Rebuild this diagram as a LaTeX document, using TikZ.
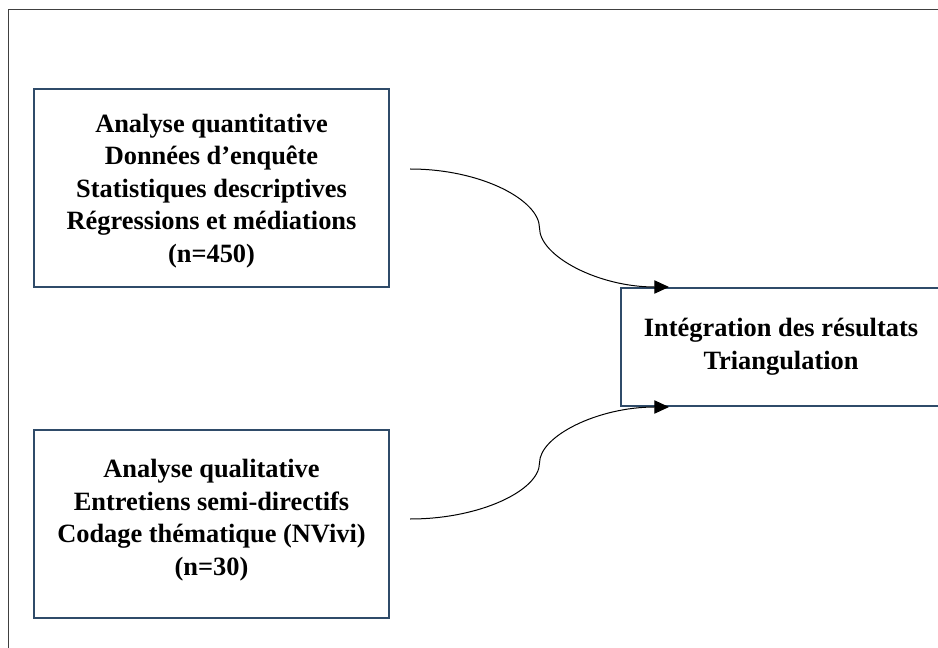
\documentclass[tikz,border=0pt]{standalone}
\usepackage{fontspec}
\setmainfont{Liberation Serif}
\usepackage{xcolor}
\usepackage{tikz}
\usetikzlibrary{positioning, calc, arrows.meta}

\definecolor{boxblue}{HTML}{2F4B69}

\begin{document}
\begin{tikzpicture}[
    x=0.75pt, y=-0.75pt,
    method/.style={
        rectangle, draw=boxblue, line width=1.5pt, inner sep=0pt,
        align=center, font=\fontsize{19.8}{24.4}\selectfont\bfseries
    },
    frame/.style={draw=black!75, line width=0.75pt},
    link/.style={-{Triangle[length=11pt,width=10pt]}, line width=0.75pt, draw=black}
]
\useasboundingbox (0,0) rectangle (938,648);
\clip (0,0) rectangle (938,648);

% Outer frame
\draw[frame] (8.5,10) rectangle (960,670);

% Method boxes
\node[method, minimum width=266.25pt, minimum height=148.5pt] (quant) at (211.5,188)
    {\mbox{}\\[-6.4pt]Analyse quantitative\\Données d’enquête\\Statistiques descriptives\\Régressions et médiations\\(n=450)};
\node[method, minimum width=266.25pt, minimum height=141pt] (qual) at (211.5,524)
    {Analyse qualitative\\Entretiens semi-directifs\\Codage thématique (NVivi)\\(n=30)\\[-14.4pt]\mbox{}};

% Integration box
\node[method, minimum width=240pt, minimum height=88.5pt] (integ) at (781,347)
    {Intégration des résultats\\Triangulation};

% Connector ends
\coordinate (quantout) at ($(quant.east)+(20,-19)$);
\coordinate (qualout) at ($(qual.east)+(20,-5)$);
\coordinate (integtop) at ($(integ.north west)+(49,0)$);
\coordinate (integbot) at ($(integ.south west)+(49,0)$);
\coordinate (bend1) at ($(quantout)!0.5!(integtop)$);
\coordinate (bend2) at ($(qualout)!0.5!(integbot)$);

% Curved connectors
\draw[link] (quantout) .. controls +(71,0) and +(0,-28) .. (bend1)
    .. controls +(0,28) and +(-71,0) .. (integtop);
\draw[link] (qualout) .. controls +(71,0) and +(0,27) .. (bend2)
    .. controls +(0,-27) and +(-71,0) .. (integbot);

\end{tikzpicture}
\end{document}
